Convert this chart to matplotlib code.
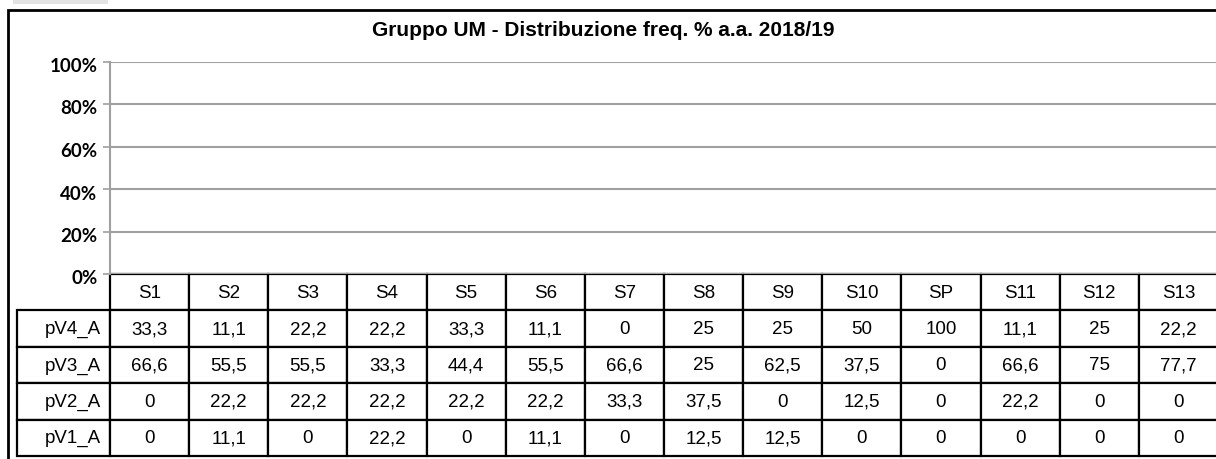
import matplotlib
matplotlib.use('Agg')
import matplotlib.pyplot as plt
from matplotlib.patches import Rectangle
from matplotlib.table import Table
from matplotlib.transforms import offset_copy

# categories and table rows
categories = ['S1', 'S2', 'S3', 'S4', 'S5', 'S6', 'S7', 'S8', 'S9', 'S10', 'SP', 'S11', 'S12', 'S13']
series_names = ['pV4_A', 'pV3_A', 'pV2_A', 'pV1_A']
pv4 = [33.3, 11.1, 22.2, 22.2, 33.3, 11.1, 0, 25, 25, 50, 100, 11.1, 25, 22.2]
pv3 = [66.6, 55.5, 55.5, 33.3, 44.4, 55.5, 66.6, 25, 62.5, 37.5, 0, 66.6, 75, 77.7]
pv2 = [0, 22.2, 22.2, 22.2, 22.2, 22.2, 33.3, 37.5, 0, 12.5, 0, 22.2, 0, 0]
pv1 = [0, 11.1, 0, 22.2, 0, 11.1, 0, 12.5, 12.5, 0, 0, 0, 0, 0]
y_ticks = [0, 20, 40, 60, 80, 100]
title = 'Gruppo UM - Distribuzione freq. % a.a. 2018/19'

W, H = 1216, 460


def fmt(v):
    return f'{v:g}'.replace('.', ',')


def fx(px):
    return px / W


def fy(py):
    return 1 - py / H


fig = plt.figure(figsize=(W / 100, H / 100), dpi=100)

# grey tab in the top left corner and the outer chart frame
fig.patches.append(Rectangle((fx(13), fy(5)), fx(95), fy(0) - fy(5), transform=fig.transFigure,
                             facecolor='#e3e3e3', edgecolor='none'))
fig.patches.append(Rectangle((fx(8), fy(470)), fx(1220), fy(11) - fy(470), transform=fig.transFigure,
                             facecolor='none', edgecolor='black', linewidth=2))

left, right = 110, 1218
top, bottom = 62.5, 275
ax = fig.add_axes([fx(left), fy(bottom), fx(right - left), fy(top) - fy(bottom)])
ax.set_xlim(-0.5, len(categories) - 0.5)
ax.set_ylim(0, 100)
ax.set_yticks(y_ticks)
ax.set_yticklabels([f'{t}%' for t in y_ticks], fontfamily='Lato', fontweight='bold', fontsize=13.5)
ax.tick_params(axis='y', length=5, width=1.2, color='#a0a0a0', pad=4)
ax.tick_params(axis='x', length=0, labelbottom=False)
for t in ax.get_yticklabels():
    t.set_transform(offset_copy(t.get_transform(), fig=fig, x=0, y=-2.5, units='dots'))
ax.grid(axis='y', color='#a0a0a0', linewidth=1.5)
ax.set_axisbelow(True)
for s in ['top', 'right', 'bottom']:
    ax.spines[s].set_visible(False)
ax.spines['left'].set_color('#a0a0a0')
ax.spines['left'].set_linewidth(1.5)

fig.text(fx(603), fy(31), title, ha='center', va='center', fontfamily='Liberation Sans',
         fontweight='bold', fontsize=15)

# data table under the plot area
rows = [pv4, pv3, pv2, pv1]
axw = right - left
axh = bottom - top
tbl_h = 182
label_w = 93
col_w = axw / len(categories)
tbl = Table(ax, bbox=[-label_w / axw, -tbl_h / axh, 1 + label_w / axw, tbl_h / axh])
tbl.auto_set_font_size(False)
row_h = 1.0
for j, cat in enumerate(categories):
    tbl.add_cell(0, j + 1, width=col_w, height=row_h, text=cat, loc='center')
for i, (name, vals) in enumerate(zip(series_names, rows)):
    c = tbl.add_cell(i + 1, 0, width=label_w, height=row_h, text=name, loc='right')
    c.PAD = 0.1
    for j, v in enumerate(vals):
        tbl.add_cell(i + 1, j + 1, width=col_w, height=row_h, text=fmt(v), loc='center')
for (r, c), cell in tbl.get_celld().items():
    cell.set_linewidth(1.6)
    cell.set_edgecolor('black')
    cell.get_text().set_fontsize(13.5)
    cell.get_text().set_fontfamily('Liberation Sans')
ax.add_table(tbl)

fig.savefig('out.png', dpi=100)
